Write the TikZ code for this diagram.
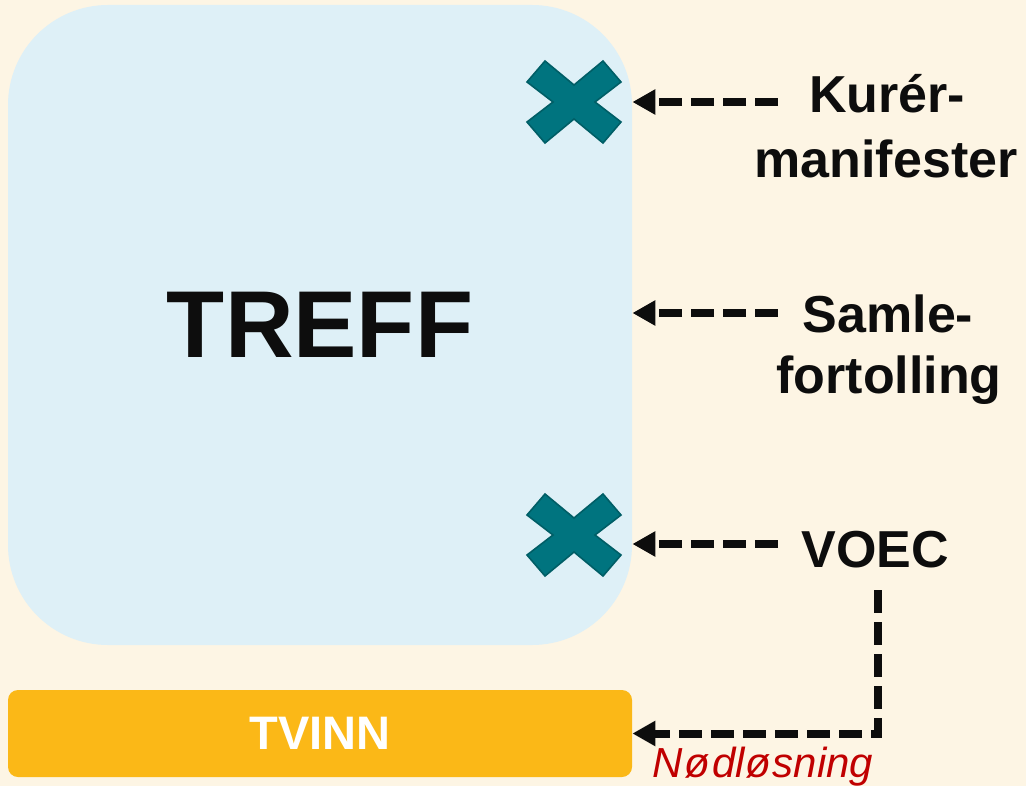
\documentclass[tikz,border=0pt]{standalone}
\usepackage{fontspec}
\setmainfont{Liberation Sans}
\usetikzlibrary{arrows.meta}
\definecolor{bgc}{HTML}{FDF5E4}
\definecolor{blueb}{HTML}{DEF0F7}
\definecolor{orangeb}{HTML}{FBB817}
\definecolor{tealx}{HTML}{00747F}
\definecolor{tealdk}{HTML}{005E66}
\definecolor{redt}{HTML}{C00000}
\definecolor{ink}{HTML}{0D0D0D}
\tikzset{
  bigbox/.style={fill=blueb, rounded corners=50pt, minimum width=312pt, minimum height=320pt, inner sep=0pt, text=ink, font=\fontsize{47.5}{57}\selectfont\bfseries},
  barbox/.style={fill=orangeb, rounded corners=5pt, minimum width=312pt, minimum height=43.5pt, inner sep=0pt, text=white, font=\fontsize{23.5}{28}\selectfont\bfseries},
  lbl/.style={anchor=base, inner sep=0pt, text=ink, font=\fontsize{26}{31}\selectfont\bfseries},
  note/.style={anchor=base, inner sep=0pt, text=redt, font=\fontsize{21}{25}\selectfont\itshape},
  dasharrow/.style={draw=ink, line width=4pt, dash pattern=on 11.5pt off 4.5pt, -{Triangle[length=11.5pt,width=12pt]}},
  xmark/.pic={\filldraw[fill=tealx, draw=tealdk, line width=0.8pt, line join=miter]
    (-47,-20) -- (-29,-41) -- (0,-17) -- (29,-41) -- (47,-20) -- (21,0) -- (47,20) -- (29,41) -- (0,17) -- (-29,41) -- (-47,20) -- (-21,0) -- cycle;}
}
\begin{document}
\begin{tikzpicture}[x=0.5pt,y=-0.5pt]
\fill[bgc] (0,0) rectangle (1026,786);
\useasboundingbox (0,0) rectangle (1026,786);
\node[bigbox] (treff) at (320,325) {TREFF};
\node[barbox] (tvinn) at (320,733.5) {TVINN};
\pic at (574,102) {xmark};
\pic at (574,535) {xmark};
\node[lbl] (kur1) at (887,113) {Kurér-};
\node[lbl] (kur2) at (886,177) {manifester};
\node[lbl] (sam1) at (888,332) {Samle-};
\node[lbl] (sam2) at (889,393) {fortolling};
\node[lbl] (voec) at (875,567) {VOEC};
\coordinate (ka) at (778,102);
\coordinate (sa) at (778,313);
\coordinate (va) at (778,544);
\coordinate (vb) at (878,590);
\draw[dasharrow] (ka) -- (ka -| treff.east);
\draw[dasharrow] (sa) -- (sa -| treff.east);
\draw[dasharrow] (va) -- (va -| treff.east);
\draw[dasharrow] (vb) |- (tvinn.east);
\node[note] (nod) at (763,777) {N\kern1ptø\kern1ptdlø\kern1ptsning};
\end{tikzpicture}
\end{document}
